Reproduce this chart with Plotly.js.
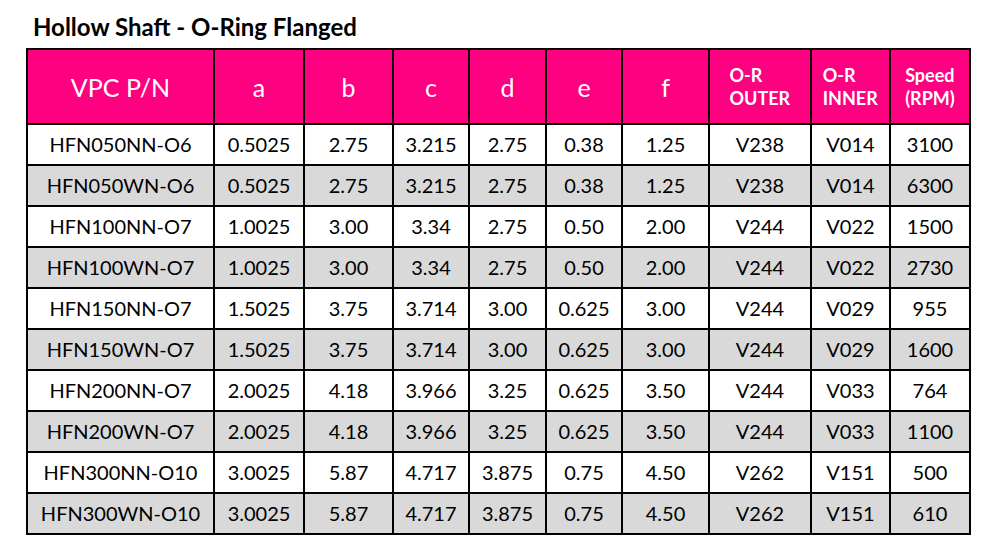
<!DOCTYPE html>
<html>
<head>
<meta charset="utf-8">
<script src="https://cdn.plot.ly/plotly-3.0.1.min.js"></script>
<style>
  html, body { margin: 0; padding: 0; background: #ffffff; }
  #chart { width: 1000px; height: 543px; }
</style>
</head>
<body>
<div id="chart"></div>
<script>
  // table data
  const headers = ['VPC P/N', 'a', 'b', 'c', 'd', 'e', 'f', '<b>O-R</b><br><b>OUTER</b>', '<b>O-R</b><br><b>INNER</b>', '<b>Speed</b><br><b>(RPM)</b>'];
  const partNumbers = ['HFN050NN-O6', 'HFN050WN-O6', 'HFN100NN-O7', 'HFN100WN-O7', 'HFN150NN-O7', 'HFN150WN-O7', 'HFN200NN-O7', 'HFN200WN-O7', 'HFN300NN-O10', 'HFN300WN-O10'];
  const colA = ['0.5025', '0.5025', '1.0025', '1.0025', '1.5025', '1.5025', '2.0025', '2.0025', '3.0025', '3.0025'];
  const colB = ['2.75', '2.75', '3.00', '3.00', '3.75', '3.75', '4.18', '4.18', '5.87', '5.87'];
  const colC = ['3.215', '3.215', '3.34', '3.34', '3.714', '3.714', '3.966', '3.966', '4.717', '4.717'];
  const colD = ['2.75', '2.75', '2.75', '2.75', '3.00', '3.00', '3.25', '3.25', '3.875', '3.875'];
  const colE = ['0.38', '0.38', '0.50', '0.50', '0.625', '0.625', '0.625', '0.625', '0.75', '0.75'];
  const colF = ['1.25', '1.25', '2.00', '2.00', '3.00', '3.00', '3.50', '3.50', '4.50', '4.50'];
  const orOuter = ['V238', 'V238', 'V244', 'V244', 'V244', 'V244', 'V244', 'V244', 'V262', 'V262'];
  const orInner = ['V014', 'V014', 'V022', 'V022', 'V029', 'V029', 'V033', 'V033', 'V151', 'V151'];
  const speedRpm = ['3100', '6300', '1500', '2730', '955', '1600', '764', '1100', '500', '610'];

  const colWidths = [187, 90, 89, 76, 77, 76, 87, 102, 79, 80];
  const FONT = 'Lato, "Open Sans", sans-serif';
  const PINK = '#ff0080';

  const rowFill = partNumbers.map((_, i) => (i % 2 === 0 ? '#ffffff' : '#d9d9d9'));

  const trace = {
    type: 'table',
    domain: { x: [0.027, 0.970], y: [0.0147, 0.9098] },
    columnwidth: colWidths,
    header: {
      values: headers,
      align: 'center',
      height: 75,
      fill: { color: PINK },
      line: { color: '#000000', width: 2.5 },
      font: { family: FONT, color: '#ffffff', size: [25, 25, 25, 25, 25, 25, 25, 18, 18, 18] }
    },
    cells: {
      values: [partNumbers, colA, colB, colC, colD, colE, colF, orOuter, orInner, speedRpm],
      align: 'center',
      height: 41,
      fill: { color: [rowFill] },
      line: { color: '#000000', width: 2.5 },
      font: { family: FONT, color: '#000000', size: 20 }
    }
  };

  const layout = {
    width: 1000,
    height: 543,
    margin: { l: 0, r: 0, t: 0, b: 0 },
    paper_bgcolor: '#ffffff',
    title: {
      text: '<b>Hollow Shaft - O-Ring Flanged</b>',
      xref: 'container', yref: 'container',
      x: 0.033, xanchor: 'left',
      y: 0.95, yanchor: 'middle',
      font: { family: FONT, size: 24, color: '#000000' }
    }
  };

  // plotly tables top-align their text; centre each label in its cell
  function centerCellText(gd) {
    gd.querySelectorAll('.column-cell').forEach(cell => {
      const rect = cell.querySelector('.cell-rect');
      const text = cell.querySelector('.cell-text');
      if (!rect || !text) return;
      const rb = rect.getBoundingClientRect();
      const tb = text.getBoundingClientRect();
      if (!rb.height || !tb.height) return;
      const dy = (rb.top + rb.height / 2) - (tb.top + tb.height / 2);
      const prev = text.getAttribute('transform') || '';
      text.setAttribute('transform', prev + ' translate(0,' + dy.toFixed(1) + ')');
    });
  }

  Plotly.newPlot('chart', [trace], layout, { displayModeBar: false, staticPlot: true })
    .then(gd => { centerCellText(gd); });
</script>
</body>
</html>
